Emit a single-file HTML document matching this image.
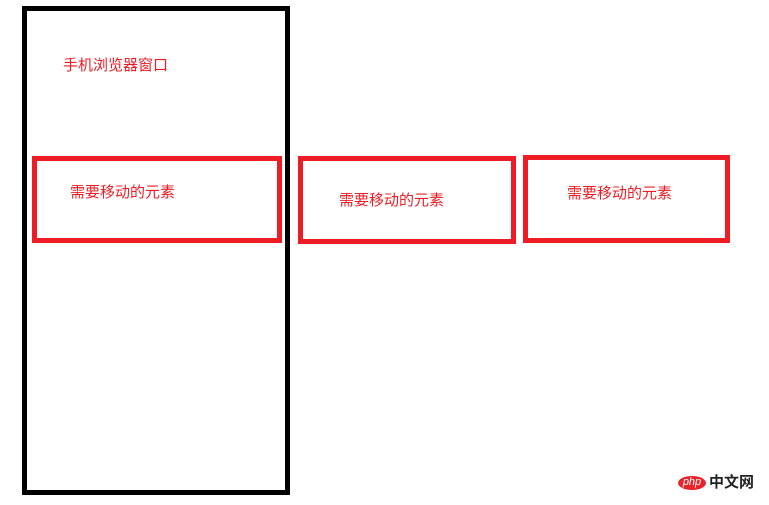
<!DOCTYPE html>
<html><head><meta charset="utf-8"><style>
html,body{margin:0;padding:0;background:#fff;width:769px;height:505px;overflow:hidden;position:relative}
div{position:absolute;box-sizing:border-box}
.t{font-family:"Liberation Sans","Microsoft YaHei","Noto Sans CJK SC",sans-serif;font-size:15px;color:#ee1c25;white-space:nowrap;line-height:16px}
.r{border:5px solid #ee1c25}
</style></head><body>
<div style="left:22px;top:6px;width:268px;height:489px;border:5px solid #000"></div>
<div class="t" style="left:63px;top:58px">手机浏览器窗口</div>
<div class="r" style="left:32px;top:156px;width:250px;height:87px"></div>
<div class="t" style="left:70px;top:185px">需要移动的元素</div>
<div class="r" style="left:298px;top:156px;width:218px;height:88px"></div>
<div class="t" style="left:339px;top:193px">需要移动的元素</div>
<div class="r" style="left:523px;top:155px;width:207px;height:88px"></div>
<div class="t" style="left:567px;top:186px">需要移动的元素</div>
<div style="left:678px;top:476px;width:28px;height:14px;border-radius:50%;background:#e8242a;color:#fff;font:italic 11px 'Liberation Sans',sans-serif;line-height:13px;text-align:center">php</div>
<div style="left:709px;top:475px;font:bold 15px 'Liberation Sans','Noto Sans CJK SC',sans-serif;color:#222;line-height:16px;white-space:nowrap">中文网</div>
</body></html>
